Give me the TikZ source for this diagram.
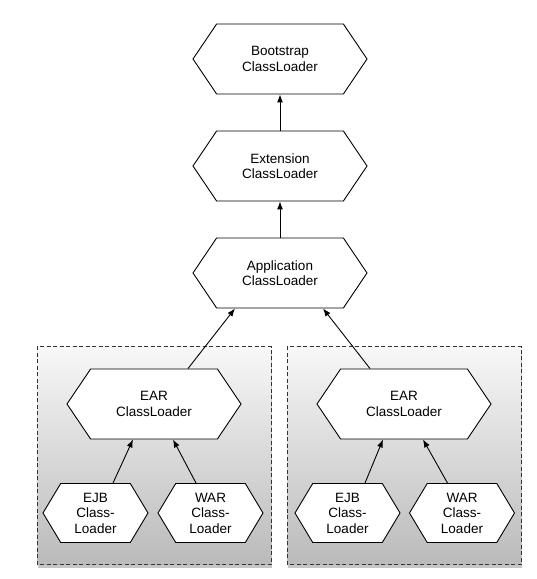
\documentclass[tikz,border=0pt]{standalone}
\usepackage{fontspec}
\setmainfont{Liberation Sans}
\usepackage{xcolor}
\usetikzlibrary{shapes.symbols,arrows.meta,shadows}
\newcommand\boxFill{gray!6}
\newcommand\boxShade{gray!54}

\tikzset{
  hexbig/.style={signal, signal to=west and east, signal pointer angle=112,
    draw=black, line width=0.9pt, fill=white, align=center, inner sep=0pt,
    minimum width=174pt, minimum height=70pt, font=\fontsize{13.5}{15.5}\selectfont},
  hexsmall/.style={hexbig, signal pointer angle=118,
    minimum width=105pt, minimum height=59pt},
  groupbox/.style={draw=gray!40!black, line width=1pt, dash pattern=on 4pt off 2.5pt,
    top color=\boxFill, bottom color=\boxShade,
    drop shadow={opacity=0.45, shadow xshift=1pt, shadow yshift=-3pt}},
  uparrow/.style={-{Latex[length=8pt,width=6pt]}, line width=0.9pt}
}

\begin{document}
\begin{tikzpicture}[x=1pt, y=1pt]
    \useasboundingbox (0,0) rectangle (537,579);

    % the two groups
    \draw[groupbox] (37,14) rectangle (271,232);
    \draw[groupbox] (287,14) rectangle (521,232);

    \node[hexbig] (boot) at (280,520) {Bootstrap\\ClassLoader};
    \node[hexbig] (ext) at (280,413) {Extension\\ClassLoader};
    \node[hexbig] (app) at (280,306) {Application\\ClassLoader};

    \node[hexbig] (earL) at (154,175) {EAR\\ClassLoader};
    \node[hexsmall] (ejbL) at (95.5,66) {EJB\\Class-\\Loader};
    \node[hexsmall] (warL) at (210.5,66) {WAR\\Class-\\Loader};

    \node[hexbig] (earR) at (404,175) {EAR\\ClassLoader};
    \node[hexsmall] (ejbR) at (347.5,66) {EJB\\Class-\\Loader};
    \node[hexsmall] (warR) at (462,66) {WAR\\Class-\\Loader};

    \draw[uparrow] (ext.north) -- (boot.south);
    \draw[uparrow] (app.north) -- (ext.south);
    \draw[uparrow] ([xshift=34pt]earL.north) -- ([xshift=-45pt]app.south);
    \draw[uparrow] ([xshift=-34pt]earR.north) -- ([xshift=43pt]app.south);

    \draw[uparrow] ([xshift=17.5pt]ejbL.north) -- ([xshift=-21pt]earL.south);
    \draw[uparrow] ([xshift=-14.5pt]warL.north) -- ([xshift=19pt]earL.south);
    \draw[uparrow] ([xshift=17.5pt]ejbR.north) -- ([xshift=-21pt]earR.south);
    \draw[uparrow] ([xshift=-14.5pt]warR.north) -- ([xshift=19pt]earR.south);
\end{tikzpicture}
\end{document}
